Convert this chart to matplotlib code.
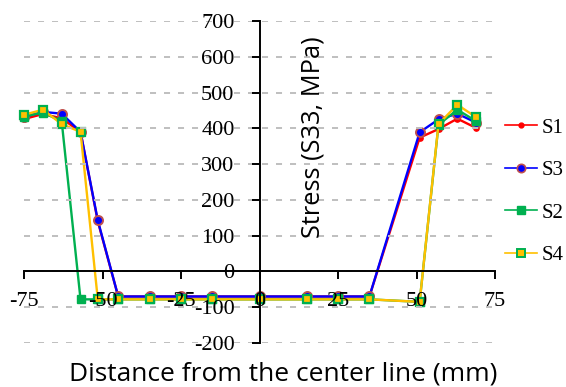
import matplotlib
matplotlib.use('Agg')
import matplotlib.pyplot as plt
from matplotlib.lines import Line2D

plt.rcParams['axes.unicode_minus'] = False
plt.rcParams['font.family'] = 'Liberation Serif'

# distance from the center line (mm)
x = [-75, -69, -63, -57, -51.5, -45, -35, -25, -15, 0, 15, 25, 35, 51, 57, 63, 69]

# stress S33 (MPa)
s1 = [426, 440, 428, 390, 140, -70, -70, -70, -70, -70, -70, -70, -70, 374, 398, 427, 401]
s3 = [432, 446, 441, 390, 143, -70, -70, -70, -70, -70, -70, -70, -70, 389, 425, 441, 416]
s2 = [433, 444, 420, -78, -78, -78, -78, -78, -78, -78, -78, -78, -78, -85, 410, 452, 420]
s4 = [438, 452, 412, 390, -78, -78, -78, -78, -78, -78, -78, -78, -78, -85, 412, 466, 431]

labels = ['S1', 'S3', 'S2', 'S4']
xticks = [-75, -50, -25, 0, 25, 50, 75]
yticks = [-200, -100, 0, 100, 200, 300, 400, 500, 600, 700]

red = '#FF0000'
blue = '#0000FF'
green = '#00B050'
yellow = '#FFC000'
brown = '#C0504D'

fig = plt.figure(figsize=(5.66, 3.87), dpi=100)
ax = fig.add_axes([0.0424, 0.1137, 0.8322, 0.832])

ax.plot(x, s1, color=red, lw=1.7, marker='o', ms=3.8, mfc=red, mec=red, clip_on=False)
ax.plot(x, s3, color=blue, lw=1.7, marker='o', ms=6.5, mfc=blue, mec=brown, mew=1.4, clip_on=False)
ax.plot(x, s2, color=green, lw=1.7, marker='s', ms=6.3, mfc=green, mec=green, clip_on=False)
ax.plot(x, s4, color=yellow, lw=1.7, marker='s', ms=6.3, mfc=yellow, mec=green, mew=1.6, clip_on=False)

ax.set_xlim(-75, 75)
ax.set_ylim(-200, 700)
ax.set_xticks(xticks)
ax.set_yticks(yticks)

ax.spines['left'].set_position(('data', 0))
ax.spines['bottom'].set_position(('data', 0))
ax.spines['top'].set_visible(False)
ax.spines['right'].set_visible(False)
for sp in ['left', 'bottom']:
    ax.spines[sp].set_linewidth(1.4)
    ax.spines[sp].set_color('black')
    ax.spines[sp].set_zorder(3)

ax.yaxis.grid(True, color='#BFBFBF', linestyle=(0, (3.1, 4.1)), lw=1.4)
ax.set_axisbelow(False)

ax.tick_params(axis='both', direction='out', length=6, width=1.4, labelsize=16)
ax.tick_params(axis='y', pad=12)
ax.tick_params(axis='x', pad=9)
for lbl in ax.get_xticklabels() + ax.get_yticklabels():
    lbl.set_family('Liberation Serif')

ax.set_xlabel('Distance from the center line (mm)', fontsize=19,
              family='Open Sans', va='center')
ax.xaxis.set_label_coords(0.55, -0.095)
ax.set_ylabel('Stress (S33, MPa)', fontsize=18.3, family='Open Sans', va='center')
ax.yaxis.set_label_coords(0.614, 0.64)

handles = [
    Line2D([], [], color=red, lw=1.2, marker='o', ms=3.5, mfc=red, mec=red),
    Line2D([], [], color=blue, lw=1.2, marker='o', ms=6, mfc=blue, mec=brown, mew=1.2),
    Line2D([], [], color=green, lw=1.2, marker='s', ms=5.5, mfc=green, mec=green),
    Line2D([], [], color=yellow, lw=1.2, marker='s', ms=6, mfc=yellow, mec=green, mew=1.4),
]
fig.legend(handles, labels, loc='center left', bbox_to_anchor=(0.892, 0.505),
           frameon=False, borderpad=0, borderaxespad=0, handlelength=1.55,
           handletextpad=0.2, labelspacing=1.1,
           prop={'family': 'Liberation Serif', 'size': 15})

fig.savefig('out.png', dpi=100)
